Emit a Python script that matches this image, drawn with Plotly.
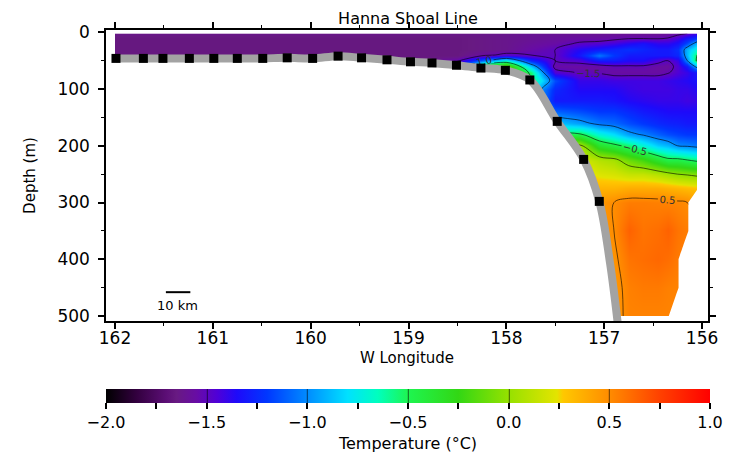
import plotly.graph_objects as go

NaN = float("nan")

# ---------------- data ----------------
depths = [2, 10, 20, 30, 40, 50, 60, 70, 85, 100, 120, 140, 160, 180, 200,
          225, 250, 275, 300, 350, 400, 450, 500]
lons = [162.0, 161.5, 161.0, 160.5, 160.0, 159.5, 159.0, 158.75, 158.5, 158.25,
        158.0, 157.75, 157.5, 157.25, 157.05, 156.9, 156.75, 156.6, 156.45,
        156.35, 156.25, 156.15, 156.05]

S = -1.66  # shelf water
temperature = [
    # 162.0 ... 159.0 | 158.75 158.5 158.25 158.0 157.75 157.5 157.25 157.05 156.9 156.75 156.6 156.45 156.35 156.25 156.15 156.05
    [-1.63]*7 + [-1.63, -1.63, -1.63, -1.62, -1.60, -1.60, -1.60, -1.60, -1.60, -1.60, -1.60, -1.60, -1.58, -1.55, -1.50, -1.40],
    [S]*7 + [-1.66, -1.66, -1.64, -1.62, -1.60, -1.58, -1.56, -1.56, -1.54, -1.52, -1.52, -1.52, -1.50, -1.42, -1.30, -1.20],
    [S]*7 + [-1.66, -1.66, -1.64, -1.62, -1.58, -1.55, -1.48, -1.46, -1.42, -1.36, -1.32, -1.38, -1.38, -1.32, -1.15, -0.90],
    [S]*7 + [-1.66, -1.66, -1.64, -1.62, -1.55, -1.50, -1.36, -1.30, -1.26, -1.22, -1.26, -1.30, -1.30, -1.22, -0.90, -0.70],
    [S]*7 + [-1.66, -1.66, -1.56, -1.45, -1.50, -1.50, -1.30, -1.05, -1.20, -1.30, -1.30, -1.30, -1.30, -1.25, -0.90, -0.50],
    [S]*7 + [-1.62, -1.52, -1.10, -0.70, -1.25, -1.50, -1.45, -1.30, -1.30, -1.35, -1.35, -1.45, -1.50, -1.40, -1.00, -0.45],
    [S]*7 + [-1.62, -1.40, -0.30, -0.05, -0.85, -1.55, -1.56, -1.56, -1.52, -1.52, -1.52, -1.56, -1.57, -1.45, -1.30, -0.90],
    [S]*7 + [-1.62, -1.40, -0.30, -0.10, -0.55, -1.45, -1.52, -1.52, -1.56, -1.56, -1.56, -1.56, -1.52, -1.45, -1.40, -1.30],
    [S]*7 + [-1.62, -1.40, -0.30, -0.10, -0.50, -1.15, -1.40, -1.40, -1.42, -1.42, -1.42, -1.42, -1.40, -1.38, -1.36, -1.32],
    [S]*7 + [-1.62, -1.40, -0.30, -0.10, -0.80, -1.25, -1.36, -1.36, -1.36, -1.40, -1.42, -1.42, -1.42, -1.40, -1.40, -1.36],
    [S]*7 + [-1.62, -1.40, -0.30, -0.10, -0.80, -1.30, -1.30, -1.30, -1.32, -1.36, -1.38, -1.40, -1.40, -1.40, -1.42, -1.40],
    [S]*7 + [-1.62, -1.40, -0.30, -0.10, -0.80, -1.10, -1.15, -1.20, -1.20, -1.25, -1.30, -1.33, -1.35, -1.35, -1.35, -1.35],
    [S]*7 + [-1.62, -1.40, -0.30, -0.10, -0.80, -0.85, -0.95, -1.05, -1.08, -1.15, -1.20, -1.25, -1.27, -1.28, -1.30, -1.30],
    [S]*7 + [-1.62, -1.40, -0.30, -0.10, -0.80, -0.50, -0.47, -0.70, -0.80, -0.95, -1.02, -1.10, -1.15, -1.18, -1.20, -1.20],
    [S]*7 + [-1.62, -1.40, -0.30, -0.10, -0.80, -0.05, 0.05, -0.35, -0.45, -0.55, -0.70, -0.85, -0.90, -1.00, -1.02, -1.05],
    [S]*7 + [-1.62, -1.40, -0.30, -0.10, -0.80, 0.20, 0.20, 0.10, 0.05, -0.10, -0.20, -0.35, -0.45, -0.45, -0.50, -0.55],
    [S]*7 + [-1.62, -1.40, -0.30, -0.10, -0.80, 0.30, 0.30, 0.22, 0.20, 0.15, 0.15, 0.10, 0.05, 0.00, -0.02, -0.05],
    [S]*7 + [-1.62, -1.40, -0.30, -0.10, -0.80, 0.40, 0.40, 0.35, 0.35, 0.38, 0.38, 0.38, 0.36, 0.34, 0.32, 0.30],
    [S]*7 + [-1.62, -1.40, -0.30, -0.10, -0.80, 0.45, 0.45, 0.45, 0.50, 0.55, 0.55, 0.54, 0.53, 0.52, 0.50, NaN],
    [S]*7 + [-1.62, -1.40, -0.30, -0.10, -0.80, 0.45, 0.45, 0.45, 0.50, 0.64, 0.58, 0.60, 0.64, 0.58, 0.55, NaN],
    [S]*7 + [-1.62, -1.40, -0.30, -0.10, -0.80, 0.45, 0.45, 0.45, 0.47, 0.58, 0.60, 0.62, 0.60, 0.56, NaN, NaN],
    [S]*7 + [-1.62, -1.40, -0.30, -0.10, -0.80, 0.45, 0.45, 0.45, 0.45, 0.54, 0.56, 0.56, 0.54, 0.53, NaN, NaN],
    [S]*7 + [-1.62, -1.40, -0.30, -0.10, -0.80, 0.45, 0.45, 0.45, 0.45, 0.53, 0.53, 0.53, 0.53, NaN, NaN, NaN],
]

station_lon = [161.99, 161.71, 161.51, 161.24, 160.99, 160.75, 160.49, 160.24,
               159.98, 159.72, 159.48, 159.22, 158.98, 158.76, 158.51, 158.26,
               158.01, 157.76, 157.48, 157.21, 157.05]
station_depth = [46, 46, 46, 46, 46, 46, 46, 45, 46, 42, 45, 48.5, 52, 54,
                 58, 63, 67, 84, 157, 224, 298]
slope_lon = [156.94, 156.86]
slope_depth = [407, 515]

lon_ticks = [162, 161, 160, 159, 158, 157, 156]
depth_ticks = [0, 100, 200, 300, 400, 500]
cbar_ticks = [-2.0, -1.75, -1.5, -1.25, -1.0, -0.75, -0.5, -0.25, 0.0, 0.25, 0.5, 0.75, 1.0]
cbar_labels = ["−2.0", "", "−1.5", "", "−1.0", "", "−0.5", "", "0.0", "", "0.5", "", "1.0"]

# ---------------- styling ----------------
colorscale = [
    [0.0, "rgb(0,0,0)"],
    [0.05, "rgb(50,0,62)"],
    [0.10, "rgb(92,14,118)"],
    [0.1167, "rgb(104,26,130)"],
    [0.15, "rgb(104,12,165)"],
    [0.1833, "rgb(80,0,215)"],
    [0.2167, "rgb(30,10,250)"],
    [0.2667, "rgb(0,55,255)"],
    [0.3333, "rgb(0,140,255)"],
    [0.40, "rgb(0,225,255)"],
    [0.45, "rgb(0,255,190)"],
    [0.50, "rgb(30,245,80)"],
    [0.5833, "rgb(50,215,20)"],
    [0.6667, "rgb(150,225,0)"],
    [0.7467, "rgb(228,228,0)"],
    [0.7567, "rgb(255,200,0)"],
    [0.8333, "rgb(255,140,0)"],
    [0.9167, "rgb(255,65,0)"],
    [1.0, "rgb(255,0,0)"],
]

FONT = "DejaVu Sans"
OFF = 8                      # page offset (body margin) of the rendered figure
W, H = 734 - OFF, 452 - OFF
L, R, T, B = 106 - OFF, 26, 30 - OFF, 131
plot_w = W - L - R
plot_h = H - T - B
plot_bottom_page = OFF + T + plot_h
X_RANGE = [162.092, 155.939]
Y_RANGE = [508.8, -4.05]

fig = go.Figure()

fig.add_trace(go.Contour(
    x=lons, y=depths, z=temperature,
    zmin=-2, zmax=1, colorscale=colorscale, connectgaps=False,
    contours=dict(coloring="heatmap", start=-1.5, end=0.5, size=0.5,
                  showlabels=True, labelformat=".1f",
                  labelfont=dict(family=FONT, size=10, color="#333")),
    line=dict(color="black", width=0.6),
    colorbar=dict(
        orientation="h", thickness=14, lenmode="pixels", len=604,
        x=(408 - OFF - L) / plot_w, xanchor="center",
        y=(plot_bottom_page - 389) / plot_h, yanchor="top", ypad=0, xpad=0,
        outlinewidth=0,
        tickmode="array", tickvals=cbar_ticks, ticktext=cbar_labels,
        ticks="outside", ticklen=6, tickwidth=1.5, tickcolor="black",
        tickfont=dict(family=FONT, size=16, color="black"),
        title=dict(text="Temperature (°C)", side="bottom",
                   font=dict(family=FONT, size=16, color="black")),
    ),
    hoverinfo="skip",
))

# white area below the sea floor (extended to the left frame)
bottom_lon = station_lon + slope_lon
bottom_depth = station_depth + slope_depth
mask_lon = [X_RANGE[0]] + bottom_lon
mask_depth = [station_depth[0]] + bottom_depth
fig.add_trace(go.Scatter(
    x=mask_lon, y=[Y_RANGE[0] + 20] * len(mask_lon), mode="lines",
    line=dict(width=0, color="white"), showlegend=False, hoverinfo="skip"))
fig.add_trace(go.Scatter(
    x=mask_lon, y=mask_depth, mode="lines", fill="tonexty", fillcolor="white",
    line=dict(color="white", width=0, shape="spline"),
    showlegend=False, hoverinfo="skip"))
# sea floor line
fig.add_trace(go.Scatter(
    x=bottom_lon, y=bottom_depth, mode="lines",
    line=dict(color="#a3a3a3", width=8, shape="spline"),
    showlegend=False, hoverinfo="skip"))
# CTD stations
fig.add_trace(go.Scatter(
    x=station_lon, y=station_depth, mode="markers",
    marker=dict(symbol="square", size=9, color="black"),
    showlegend=False, hoverinfo="skip"))

# 10 km scale bar
fig.add_shape(type="line", x0=161.48, x1=161.23, y0=458, y1=458,
              line=dict(color="black", width=2))
fig.add_annotation(x=161.36, y=482, text="10 km", showarrow=False,
                   font=dict(family=FONT, size=13, color="black"))

axis_common = dict(
    showgrid=False, zeroline=False, showline=True, linecolor="black", linewidth=1.5,
    mirror="ticks", ticks="outside", ticklen=6, tickwidth=1.5, tickcolor="black",
    tickfont=dict(family=FONT, size=17, color="black"), automargin=False,
)
fig.update_xaxes(
    range=X_RANGE, tickmode="array", tickvals=lon_ticks,
    ticktext=[str(v) for v in lon_ticks], ticklabelstandoff=-5,
    minor=dict(dtick=0.5, tick0=156, ticks="outside", ticklen=3, tickcolor="black", tickwidth=1.2),
    title=dict(text="W Longitude", standoff=5, font=dict(family=FONT, size=15, color="black")),
    **axis_common)
fig.update_yaxes(
    range=Y_RANGE, tickmode="array", tickvals=depth_ticks,
    ticktext=[str(v) for v in depth_ticks], ticklabelstandoff=5,
    minor=dict(dtick=50, tick0=0, ticks="outside", ticklen=3, tickcolor="black", tickwidth=1.2),
    title=dict(text="Depth (m)", standoff=18, font=dict(family=FONT, size=15, color="black")),
    **axis_common)

fig.update_layout(
    width=W, height=H,
    margin=dict(l=L, r=R, t=T, b=B, autoexpand=False),
    paper_bgcolor="white", plot_bgcolor="white",
    font=dict(family=FONT, color="black"),
    title=dict(text="Hanna Shoal Line", x=(408 - OFF - L) / plot_w, xref="paper", xanchor="center",
               y=1 - (18 - OFF) / H, yref="container", yanchor="middle",
               font=dict(family=FONT, size=16, color="black")),
    showlegend=False,
)

fig.write_html("out.html")
